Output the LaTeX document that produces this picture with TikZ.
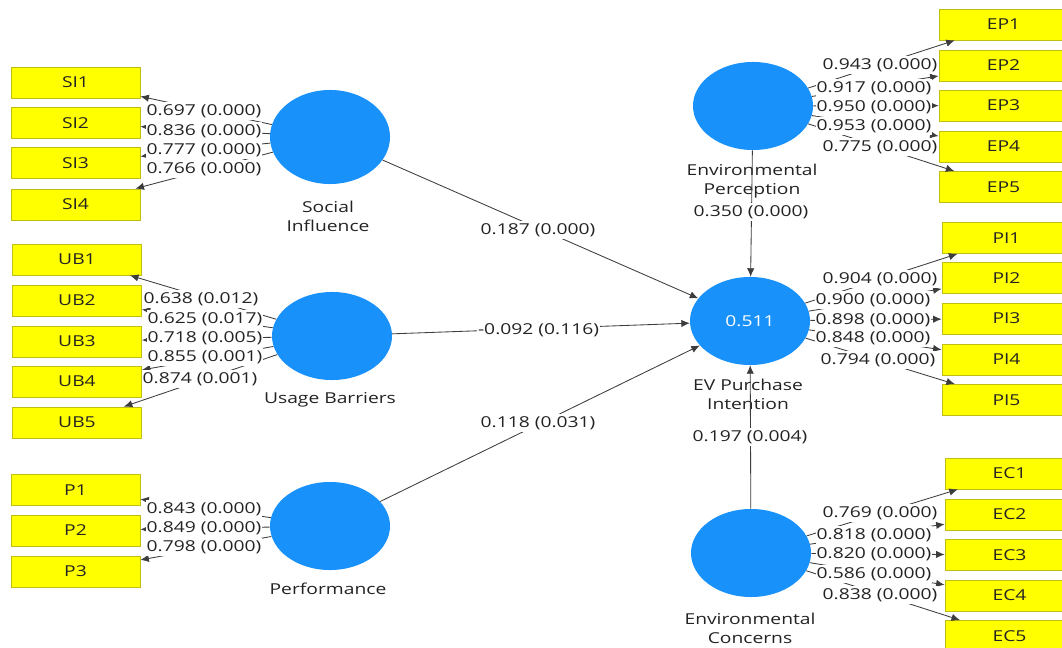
\documentclass[tikz,border=0pt]{standalone}
\usepackage{fontspec}
\setmainfont{Open Sans}[FakeStretch=1.28]
\usetikzlibrary{arrows.meta,shapes.geometric}
\definecolor{lvblue}{RGB}{25,145,250}
\definecolor{indyel}{RGB}{255,255,0}
\definecolor{indedge}{RGB}{190,190,20}
\definecolor{txt}{RGB}{35,35,35}
\definecolor{ln}{RGB}{60,60,60}
\begin{document}
\begin{tikzpicture}[x=0.025cm,y=-0.025cm,
  every node/.style={font=\fontsize{10.7}{13.5}\selectfont, text=txt},
  indbox/.style={draw=indedge, fill=indyel, minimum width=3.225cm, minimum height=0.775cm, inner sep=0pt, line width=0.6pt},
  lv/.style={ellipse, fill=lvblue, minimum width=3cm, minimum height=2.2cm, inner sep=0pt},
  lvname/.style={align=center},
  coef/.style={fill=white, inner xsep=0.6pt, inner ysep=1.6pt},
  arr/.style={draw=ln, line width=0.6pt, -{Latex[length=6pt,width=5.2pt]}},
]
\useasboundingbox (0,0) rectangle (1062,648);
\fill[white] (0,0) rectangle (1062,648);

% latent variables
\node[lv, minimum height=2.35cm] (SI) at (330,137) {};
\node[lv] (UB) at (332,336) {};
\node[lv] (PF) at (330,526) {};
\node[lv] (EP) at (753,106) {};
\node[lv] (EV) at (750,321) {\textcolor{white}{0.511}};
\node[lv] (EC) at (751,553) {};

% latent names
\node[lvname] (SIn) at (328,216) {Social\\Influence};
\node[lvname] (UBn) at (330,400) {Usage Barriers};
\node[lvname] (PFn) at (328,589) {Performance};
\node[lvname] (EPn) at (752,181) {Environmental\\Perception};
\node[lvname] (EVn) at (748,394) {EV Purchase\\Intention};
\node[lvname] (ECn) at (750,628) {Environmental\\Concerns};

% indicators left
\node[indbox] (SI1) at (75.5,82.5) {SI1};
\node[indbox] (SI2) at (75.5,123) {SI2};
\node[indbox] (SI3) at (75.5,163) {SI3};
\node[indbox] (SI4) at (75.5,204.5) {SI4};
\node[indbox] (UB1) at (77,259.5) {UB1};
\node[indbox] (UB2) at (77,300.5) {UB2};
\node[indbox] (UB3) at (77,341.5) {UB3};
\node[indbox] (UB4) at (77,381.5) {UB4};
\node[indbox] (UB5) at (77,422.5) {UB5};
\node[indbox] (P1) at (75.5,490) {P1};
\node[indbox] (P2) at (75.5,530.5) {P2};
\node[indbox] (P3) at (75.5,571.5) {P3};

% indicators right
\node[indbox] (EP1) at (1003.5,24.5) {EP1};
\node[indbox] (EP2) at (1003.5,65.5) {EP2};
\node[indbox] (EP3) at (1003.5,105.5) {EP3};
\node[indbox] (EP4) at (1003.5,146.5) {EP4};
\node[indbox] (EP5) at (1003.5,187) {EP5};
\node[indbox] (PI1) at (1006.5,238) {PI1};
\node[indbox] (PI2) at (1006.5,278) {PI2};
\node[indbox] (PI3) at (1006.5,318.5) {PI3};
\node[indbox] (PI4) at (1006.5,359.5) {PI4};
\node[indbox] (PI5) at (1006.5,400) {PI5};
\node[indbox] (EC1) at (1009.5,473.5) {EC1};
\node[indbox] (EC2) at (1009.5,514.5) {EC2};
\node[indbox] (EC3) at (1009.5,555) {EC3};
\node[indbox] (EC4) at (1009.5,595.5) {EC4};
\node[indbox] (EC5) at (1009.5,636) {EC5};

% loadings
\foreach \i in {1,...,4} \draw[arr] (SI) -- (SI\i);
\foreach \i in {1,...,5} \draw[arr] (UB) -- (UB\i);
\foreach \i in {1,...,3} \draw[arr] (PF) -- (P\i);
\foreach \i in {1,...,5} \draw[arr] (EP) -- (EP\i);
\foreach \i in {1,...,5} \draw[arr] (EV) -- (PI\i);
\foreach \i in {1,...,5} \draw[arr] (EC) -- (EC\i);

% structural paths
\draw[arr] (SI) -- (EV);
\draw[arr] (UB) -- (EV);
\draw[arr] (PF) -- (EV);
\draw[arr] (EP) -- (EV);
\draw[arr] (EC) -- (EV);

% path coefficients
\node[coef] (c1) at (538,230) {0.187 (0.000)};
\node[coef] (c2) at (538.5,330) {-0.092 (0.116)};
\node[coef] (c3) at (538,423) {0.118 (0.031)};
\node[coef] (c4) at (751,212) {0.350 (0.000)};
\node[coef] (c5) at (750,437) {0.197 (0.004)};

% loading labels left
\node[coef] (lSI1) at (204,111) {0.697 (0.000)};
\node[coef] (lSI2) at (204,131) {0.836 (0.000)};
\node[coef] (lSI3) at (204,150) {0.777 (0.000)};
\node[coef] (lSI4) at (204,169) {0.766 (0.000)};
\node[coef] (lUB1) at (201,299) {0.638 (0.012)};
\node[coef] (lUB2) at (205,319) {0.625 (0.017)};
\node[coef] (lUB3) at (205,338) {0.718 (0.005)};
\node[coef] (lUB4) at (205,357) {0.855 (0.001)};
\node[coef] (lUB5) at (200,379) {0.874 (0.001)};
\node[coef] (lP1) at (204,509) {0.843 (0.000)};
\node[coef] (lP2) at (204,528) {0.849 (0.000)};
\node[coef] (lP3) at (204,547) {0.798 (0.000)};

% loading labels right
\node[coef] (lEP1) at (880,65) {0.943 (0.000)};
\node[coef] (lEP2) at (874,88) {0.917 (0.000)};
\node[coef] (lEP3) at (874,107) {0.950 (0.000)};
\node[coef] (lEP4) at (874,126) {0.953 (0.000)};
\node[coef] (lEP5) at (880,147) {0.775 (0.000)};
\node[coef] (lPI1) at (880,279) {0.904 (0.000)};
\node[coef] (lPI2) at (873,300) {0.900 (0.000)};
\node[coef] (lPI3) at (873,320) {0.898 (0.000)};
\node[coef] (lPI4) at (873,338) {0.848 (0.000)};
\node[coef] (lPI5) at (878,360) {0.794 (0.000)};
\node[coef] (lEC1) at (880,513) {0.769 (0.000)};
\node[coef] (lEC2) at (874,535) {0.818 (0.000)};
\node[coef] (lEC3) at (874,554) {0.820 (0.000)};
\node[coef] (lEC4) at (874,574) {0.586 (0.000)};
\node[coef] (lEC5) at (880,595) {0.838 (0.000)};
\end{tikzpicture}
\end{document}
